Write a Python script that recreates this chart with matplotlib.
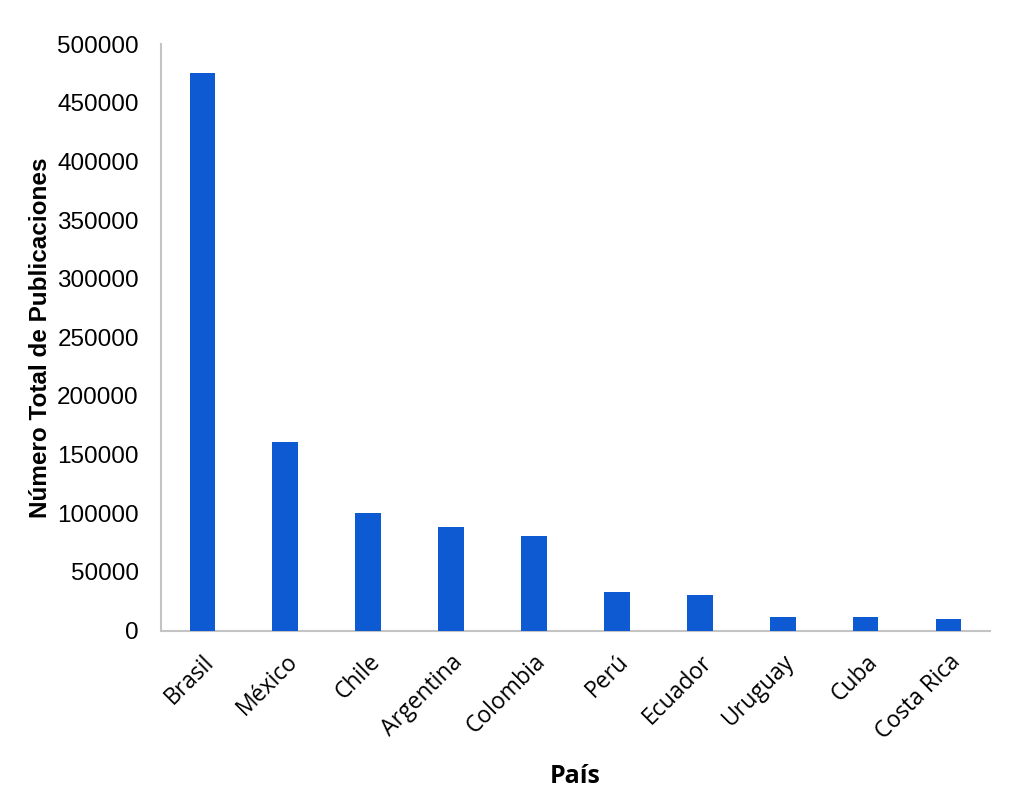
import matplotlib
matplotlib.use('Agg')
import matplotlib.pyplot as plt

paises = ["Brasil", "México", "Chile", "Argentina", "Colombia",
          "Perú", "Ecuador", "Uruguay", "Cuba", "Costa Rica"]
publicaciones = [475000, 160700, 99900, 88000, 80600,
                 32800, 30300, 11500, 11200, 9800]
y_ticks = [0, 50000, 100000, 150000, 200000, 250000,
           300000, 350000, 400000, 450000, 500000]

BAR = "#0E5AD3"
AXIS = "#C4C4C4"

fig = plt.figure(figsize=(10.24, 8.02), dpi=100)
ax = fig.add_axes([0.1572, 0.2138, 0.8096, 0.7312])

x = range(len(paises))
ax.bar(x, publicaciones, width=0.31, color=BAR, zorder=3)

ax.set_xlim(-0.5, len(paises) - 0.5)
ax.set_ylim(0, 500000)
ax.set_yticks(y_ticks)
ax.set_yticklabels([str(v) for v in y_ticks], fontsize=17.5,
                   family="Liberation Sans")
ax.set_xticks(list(x))
ax.set_xticklabels(paises, rotation=45, ha="right", rotation_mode="anchor",
                   fontsize=16.5, family="Open Sans")
ax.tick_params(length=0)
ax.tick_params(axis="y", pad=16)
ax.tick_params(axis="x", pad=14)

for s in ["top", "right"]:
    ax.spines[s].set_visible(False)
for s in ["left", "bottom"]:
    ax.spines[s].set_color(AXIS)
    ax.spines[s].set_linewidth(1.5)

ax.set_ylabel("Número Total de Publicaciones", fontsize=17.5, fontweight="bold",
              family="Liberation Sans", labelpad=4)
ax.set_xlabel("País", fontsize=18, fontweight="bold", family="Open Sans",
              labelpad=14)

fig.savefig("out.png", dpi=100)
